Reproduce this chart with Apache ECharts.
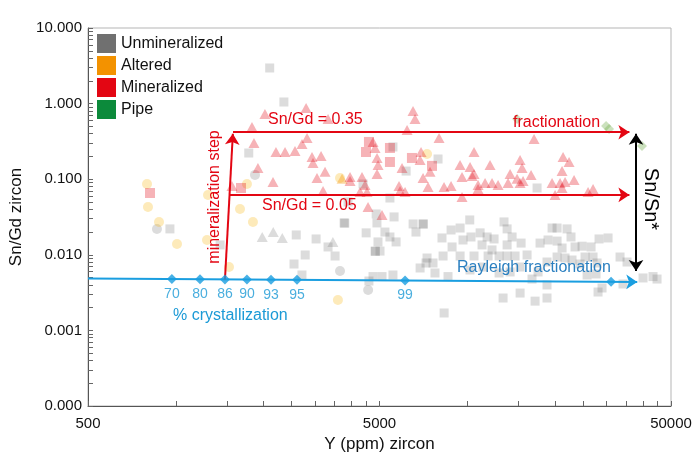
<!DOCTYPE html>
<html><head><meta charset="utf-8">
<script src="https://cdn.jsdelivr.net/npm/echarts@6/dist/echarts.min.js"></script>
<style>html,body{margin:0;padding:0;background:#fff}#c{width:693px;height:473px}</style>
</head><body><div id="c"></div>
<script>
// ---------- data (Y ppm, Sn/Gd) ----------
const unminSquares = [
[2100,2.96],[2350,1.05],[1780,0.222],[1420,0.0135],[955,0.022],[2590,0.0183],[2545,0.00755],[2710,0.00541],[2780,0.00994],[3030,0.0162],[3330,0.0127],[3520,0.00964],[3780,0.0264],[3800,0.0262],[4500,0.0195],[4870,0.0347],[4900,0.0264],[5220,0.0200],[4940,0.0148],[4830,0.0112],[4840,0.0111],[5020,0.0112],[5430,0.0172],[5700,0.0148],[5610,0.0317],[5430,0.0564],[6170,0.128],[7940,0.185],[5560,0.267],[4750,0.00515],[5100,0.00515],[5560,0.00541],[4600,0.0045],[4390,0.0864],[3900,0.050],
[6520,0.0256],[7050,0.0256],[7070,0.0255],[6670,0.0200],[10200,0.0289],[8800,0.0213],[9450,0.0226],[8190,0.0167],[8870,0.0127],[9670,0.0157],[10300,0.0172],[11070,0.0195],[11700,0.0172],[12360,0.0162],[13370,0.0272],[13700,0.0220],[14250,0.0172],[13700,0.0135],[15300,0.0143],[11240,0.0135],[12160,0.0116],[11790,0.00964],[12860,0.00964],[13700,0.00964],[14590,0.00964],[10550,0.00964],[9450,0.00964],[8260,0.00964],[7280,0.00907],[7220,0.00779],[7630,0.00779],[6890,0.00669],[7750,0.00575],[8590,0.00515],[16040,0.00994],[15180,0.00689],[14030,0.00593],[12860,0.00575],[11330,0.00689],[10220,0.0063],[13270,0.00268],[15180,0.00312],[17090,0.00244],[18780,0.00268],[8330,0.0017],[16680,0.00478],[17500,0.00593],[18780,0.00803],[17770,0.0143],[18930,0.0157],[19540,0.0226],[17360,0.0765],
[20330,0.0226],[22000,0.0220],[22700,0.0172],[20330,0.0152],[21150,0.0123],[23430,0.0127],[24770,0.0130],[26590,0.0127],[28320,0.0162],[30410,0.0167],[20330,0.00935],[21650,0.00907],[22880,0.00853],[24380,0.00755],[25360,0.00935],[27010,0.00935],[27880,0.00779],[33430,0.00935],[35330,0.00803],[25770,0.00541],[27660,0.00558],[28100,0.00322],[29000,0.00364],[34230,0.00411],[40090,0.00494],[43380,0.00515],[44780,0.00478],[18780,0.00399]
];
const unminCircles = [[862,0.0220],[1870,0.114],[3660,0.00611],[4570,0.00342]];
const unminTriangles = [[1980,0.0172],[2160,0.0200],[2320,0.0167],[3460,0.0148]];
const alteredCircles = [[797,0.0864],[803,0.0429],[876,0.0272],[1010,0.0139],[1290,0.0618],[1280,0.0157],[1523,0.00689],[1661,0.0404],[1755,0.0864],[1840,0.0272],[3600,0.00252],[3660,0.104],[7280,0.215]];
const alteredTriangles = [[3720,0.101]];
const minSquares = [[816,0.0657],[1674,0.0765],[4600,0.311],[4495,0.229],[5430,0.259],[5430,0.169],[6460,0.191],[7570,0.150]];
const minTriangles = [
[1826,0.490],[1855,0.301],[1914,0.141],[1559,0.0813],
[2023,0.727],[2800,0.875],[3330,0.626],[2821,0.351],[2711,0.292],[2207,0.229],[2371,0.229],[2565,0.236],[2156,0.0918],[2934,0.196],[2957,0.164],[3151,0.202],[3252,0.125],[3052,0.104],[3201,0.0698],[3962,0.107],[3962,0.0947],[4355,0.107],[4460,0.0838],[4287,0.0678],[4531,0.0678],[4751,0.311],[4827,0.259],[4904,0.191],[4943,0.154],[4904,0.117],[5974,0.141],[5834,0.0813],[5881,0.0698],[4567,0.0429],[5100,0.0337],
[6516,0.797],[6619,0.626],[6216,0.448],[8002,0.351],[16950,0.340],[10550,0.229],[6942,0.229],[6888,0.1795],[7453,0.125],[7053,0.104],[7338,0.0789],[8325,0.0789],[8799,0.0813],[9446,0.154],[9596,0.107],[10224,0.145],[10387,0.110],[10552,0.117],[10892,0.0838],[10892,0.0742],[11511,0.0891],[12163,0.0891],[12755,0.0838],[11973,0.154],[14025,0.117],[15176,0.1795],[15417,0.141],[16553,0.114],[13803,0.0891],[15176,0.0891],[15540,0.0947],[14823,0.101],[19541,0.0891],[9596,0.0582],[6118,0.0678],
[21315,0.196],[22349,0.169],[21146,0.128],[20815,0.0891],[21654,0.0918],[23248,0.0976],[21146,0.0765],[20010,0.0618],[25970,0.0678],[27012,0.0742]
];
const pipeDiamonds = [[14823,0.626],[29930,0.506],[30650,0.461],[39770,0.275]];

// Rayleigh fractionation model points
const rayleighX = [970, 1211, 1475, 1755, 2122, 2606, 6118, 31140];
const rayleighY = [0.00478, 0.00476, 0.00472, 0.00471, 0.00468, 0.00467, 0.00457, 0.00439];
const pctLabels = ['70','80','86','90','93','95','99',''];

// annotation lines (data coordinates)
const rayleighLine = [[500, 0.00486], [38300, 0.00438]];
const mineralStep = [[1475, 0.00472], [1570, 0.40]];
const ratioHigh = [[1572, 0.418], [36000, 0.418]];
const ratioLow = [[1525, 0.062], [36000, 0.062]];
const snStar = [[37930, 0.40], [37930, 0.0061]];

// axis tick labels
const xTickLabels = [500, 5000, 50000];
const yTickLabels = [0.0001, 0.001, 0.01, 0.1, 1, 10];

// minor tick positions
const xTicks = [];
[500, 5000].forEach(b => { for (let n = 1; n <= 9; n++) xTicks.push(b * n); });
xTicks.push(50000);
const yTicks = [];
[0.0001, 0.001, 0.01, 0.1, 1].forEach(b => { for (let n = 1; n <= 9; n++) yTicks.push(b * n); });
yTicks.push(10);

const FONT = "'Liberation Sans', Arial, Helvetica, sans-serif";
const GRAY = 'rgba(110,110,110,0.30)';
const ORANGE = 'rgba(250,190,40,0.40)';
const RED = 'rgba(227,6,19,0.38)';
const GREEN = 'rgba(112,173,71,0.45)';
const BLUE = '#1a9ee0';
const REDLINE = '#e30613';

const chart = echarts.init(document.getElementById('c'), null, {renderer: 'canvas'});

function sc(name, sym, size, data, color, z) {
  return { name, type: 'scatter', symbol: sym, symbolSize: size, data,
    itemStyle: { color }, z, silent: true, emphasis: { disabled: true } };
}
function seg(pts, color, startSym) {
  return [
    { coord: pts[0], symbol: startSym || 'none', lineStyle: { color, width: 2, type: 'solid' } },
    { coord: pts[1], symbol: 'arrow', lineStyle: { color, width: 2, type: 'solid' } }
  ];
}

const option = {
  animation: false,
  backgroundColor: '#fff',
  textStyle: { fontFamily: FONT },
  grid: { left: 88, right: 22, top: 28, bottom: 67, show: true, borderColor: '#b5b5b5', borderWidth: 1,
          containLabel: false, outerBoundsMode: 'none' },
  legend: {
    orient: 'vertical', left: 92, top: 29, itemWidth: 19, itemHeight: 19, itemGap: 3, icon: 'rect',
    selectedMode: false,
    textStyle: { fontSize: 16, color: '#111', fontFamily: FONT },
    data: [
      { name: 'Unmineralized', itemStyle: { color: '#707070', opacity: 1 } },
      { name: 'Altered', itemStyle: { color: '#f39200', opacity: 1 } },
      { name: 'Mineralized', itemStyle: { color: '#e30613', opacity: 1 } },
      { name: 'Pipe', itemStyle: { color: '#0c8a3b', opacity: 1 } }
    ]
  },
  xAxis: {
    type: 'log', logBase: 10, min: 500, max: 50000,
    name: 'Y (ppm) zircon', nameLocation: 'middle', nameGap: 26,
    nameTextStyle: { fontSize: 17, color: '#111', fontFamily: FONT },
    axisLine: { show: true, onZero: false, lineStyle: { color: '#555', width: 1 } },
    axisTick: { show: true, inside: true, length: 5, customValues: xTicks, lineStyle: { color: '#666' } },
    axisLabel: { customValues: xTickLabels, formatter: v => String(Math.round(v)), fontSize: 15, color: '#111', margin: 10, fontFamily: FONT },
    splitLine: { show: false }, minorTick: { show: false }
  },
  yAxis: {
    type: 'log', logBase: 10, min: 0.0001, max: 10,
    name: 'Sn/Gd zircon', nameLocation: 'middle', nameGap: 50,
    nameTextStyle: { fontSize: 17, color: '#111', fontFamily: FONT },
    axisLine: { show: true, onZero: false, lineStyle: { color: '#555', width: 1 } },
    axisTick: { show: true, inside: true, length: 5, customValues: yTicks, lineStyle: { color: '#666' } },
    axisLabel: { customValues: yTickLabels, formatter: v => v.toFixed(3), fontSize: 15, color: '#111', margin: 6, fontFamily: FONT },
    splitLine: { show: false }, minorTick: { show: false }
  },
  series: [
    sc('Unmineralized', 'rect', 9, unminSquares, GRAY, 2),
    sc('Unmineralized', 'circle', 10, unminCircles, GRAY, 2),
    sc('Unmineralized', 'triangle', [11, 10], unminTriangles, GRAY, 2),
    sc('Altered', 'circle', 10, alteredCircles, ORANGE, 3),
    sc('Altered', 'triangle', [11, 10], alteredTriangles, 'rgba(243,146,0,0.45)', 3),
    sc('Mineralized', 'triangle', [11, 10], minTriangles, RED, 4),
    sc('Mineralized', 'rect', 10, minSquares, RED, 4),
    sc('Pipe', 'diamond', 10, pipeDiamonds, GREEN, 4),
    {
      type: 'scatter', name: 'rayleigh', symbol: 'diamond', symbolSize: 10, z: 10, silent: true,
      data: rayleighX.map((x, i) => [x, rayleighY[i]]),
      itemStyle: { color: BLUE },
      label: { show: true, position: 'bottom', distance: 3, color: '#1b9ad6', fontSize: 14, fontFamily: FONT,
               formatter: p => pctLabels[p.dataIndex] },
      markLine: {
        silent: true, animation: false, symbolSize: 11, label: { show: false }, emphasis: { disabled: true },
        data: [
          seg(rayleighLine, BLUE),
          seg(mineralStep, REDLINE),
          seg(ratioHigh, REDLINE),
          seg(ratioLow, REDLINE),
          seg(snStar, '#000', 'arrow')
        ]
      }
    }
  ],
  graphic: [
    { type: 'text', x: 268, y: 120, z: 20, style: { text: 'Sn/Gd = 0.35', fill: REDLINE, fontSize: 16, fontFamily: FONT, align: 'left', verticalAlign: 'middle', textAlign: 'left', textVerticalAlign: 'middle' } },
    { type: 'text', x: 262, y: 206, z: 20, style: { text: 'Sn/Gd = 0.05', fill: REDLINE, fontSize: 16, fontFamily: FONT, align: 'left', verticalAlign: 'middle', textAlign: 'left', textVerticalAlign: 'middle' } },
    { type: 'text', x: 513, y: 123, z: 20, style: { text: 'fractionation', fill: REDLINE, fontSize: 16, fontFamily: FONT, align: 'left', verticalAlign: 'middle', textAlign: 'left', textVerticalAlign: 'middle' } },
    { type: 'text', x: 215, y: 197, rotation: Math.PI / 2, z: 20, style: { text: 'mineralization step', fill: REDLINE, fontSize: 16, fontFamily: FONT, align: 'center', verticalAlign: 'middle', textAlign: 'center', textVerticalAlign: 'middle' } },
    { type: 'text', x: 457, y: 268, z: 20, style: { text: 'Rayleigh fractionation', fill: '#2a7fc0', fontSize: 16, fontFamily: FONT, align: 'left', verticalAlign: 'middle', textAlign: 'left', textVerticalAlign: 'middle' } },
    { type: 'text', x: 173, y: 316, z: 20, style: { text: '% crystallization', fill: '#1b9ad6', fontSize: 16, fontFamily: FONT, align: 'left', verticalAlign: 'middle', textAlign: 'left', textVerticalAlign: 'middle' } },
    { type: 'text', x: 651, y: 199, rotation: -Math.PI / 2, z: 20, style: { text: 'Sn/Sn*', fill: '#000', fontSize: 20, fontFamily: FONT, align: 'center', verticalAlign: 'middle', textAlign: 'center', textVerticalAlign: 'middle' } }
  ]
};
chart.setOption(option);
</script>
</body></html>
